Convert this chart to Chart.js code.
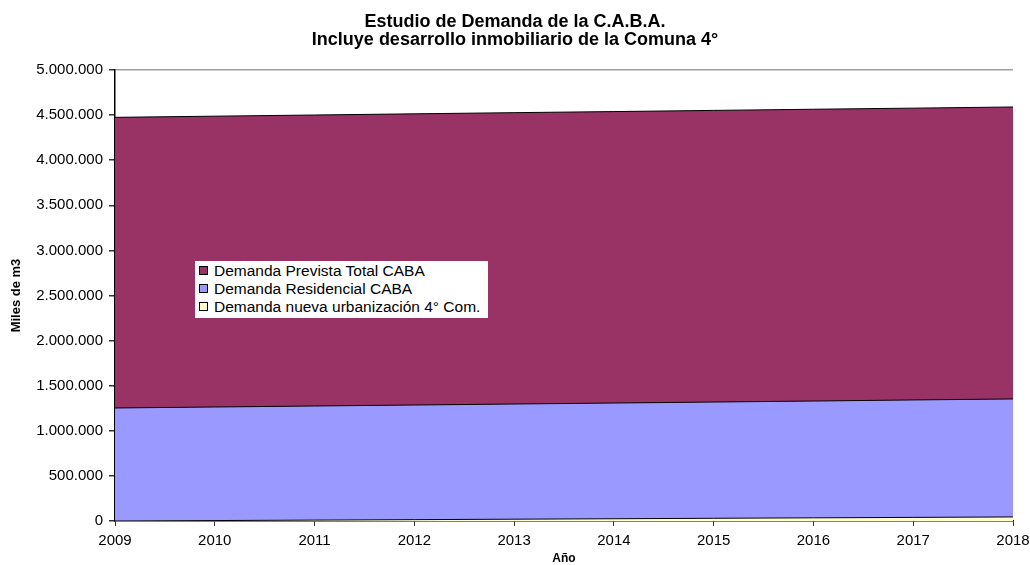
<!DOCTYPE html>
<html>
<head>
<meta charset="utf-8">
<script src="https://cdn.jsdelivr.net/npm/chart.js@4.4.0/dist/chart.umd.min.js"></script>
<style>
  body { margin: 0; background: #fff; }
  #wrap { position: relative; width: 1030px; height: 565px; }
  #legend {
    position: absolute; left: 195px; top: 261px; width: 293px; height: 57px;
    background: #fff; font-family: "Liberation Sans", Arial, sans-serif; font-size: 15.5px; color: #000;
    box-sizing: border-box; padding: 1px 0 0 4px;
  }
  #legend div { height: 18px; line-height: 18px; white-space: nowrap; }
  #legend span.box { display: inline-block; width: 7px; height: 7px; border: 1px solid #000; margin-right: 6px; vertical-align: 1px; }
</style>
</head>
<body>
<div id="wrap">
  <canvas id="chart" width="1030" height="565"></canvas>
  <div id="legend"></div>
</div>
<script>
// Years on the x axis
const years = ['2009', '2010', '2011', '2012', '2013', '2014', '2015', '2016', '2017', '2018'];

// Series values (miles de m3)
const demandaTotal = [4475000, 4488000, 4501000, 4514000, 4527000, 4539000, 4552000, 4565000, 4577000, 4590000];
const demandaResidencial = [1253000, 1264000, 1275000, 1286000, 1297000, 1308000, 1319000, 1330000, 1342000, 1353000];
const demandaComuna4 = [0, 5000, 10000, 15000, 20000, 25000, 30000, 35000, 40000, 45000];

const seriesNames = ['Demanda Prevista Total CABA', 'Demanda Residencial CABA', 'Demanda nueva urbanización 4° Com.'];
const seriesColors = ['#993366', '#9999FF', '#FFFFCC'];

const FONT = "'Liberation Sans', Arial, sans-serif";

function fmtMiles(v) {
    return Math.round(v).toString().replace(/\B(?=(\d{3})+(?!\d))/g, '.');
}

// lower order = drawn on top, so the small series stays visible
const datasets = [demandaTotal, demandaResidencial, demandaComuna4].map((data, i) => ({
    label: seriesNames[i],
    data: data,
    backgroundColor: seriesColors[i],
    borderColor: '#000',
    borderWidth: 1,
    fill: 'origin',
    pointRadius: 0,
    tension: 0,
    order: 3 - i
}));

new Chart(document.getElementById('chart'), {
    type: 'line',
    data: { labels: years, datasets: datasets },
    options: {
        responsive: false,
        animation: false,
        layout: { padding: { left: 0, right: 0, top: 0, bottom: 0 } },
        plugins: {
            legend: { display: false },
            tooltip: { enabled: false },
            filler: { drawTime: 'beforeDatasetDraw' },
            title: {
                display: true,
                text: ['Estudio de Demanda de la C.A.B.A.', 'Incluye desarrollo inmobiliario de la Comuna 4°'],
                color: '#000',
                font: { family: FONT, size: 18, weight: 'bold', lineHeight: 1.0 },
                padding: { top: 13, bottom: 21 }
            }
        },
        scales: {
            x: {
                offset: false,
                grid: { drawOnChartArea: false, tickLength: 5, tickColor: '#333' },
                border: { color: '#000', width: 1.5 },
                ticks: { color: '#000', font: { family: FONT, size: 15 }, padding: 6, maxRotation: 0, autoSkip: false },
                title: { display: true, text: 'Año', color: '#000', font: { family: FONT, size: 12, weight: 'bold', lineHeight: 1 }, padding: 0 },
                afterFit: (s) => { s.height = 44; s.paddingRight = 17; }
            },
            y: {
                min: 0,
                max: 5000000,
                ticks: { stepSize: 500000, color: '#000', font: { family: FONT, size: 15 }, padding: 6, callback: (v) => fmtMiles(v) },
                grid: {
                    tickLength: 6,
                    tickColor: '#333',
                    color: (ctx) => ctx.tick && ctx.tick.value === 5000000 ? '#a0a0a0' : 'rgba(0,0,0,0)',
                    lineWidth: 1.5
                },
                border: { color: '#000', width: 1.5 },
                title: { display: true, text: 'Miles de m3', color: '#000', font: { family: FONT, size: 13, weight: 'bold' }, padding: { top: 9, bottom: 0 } },
                afterFit: (s) => { s.width = 115; }
            }
        }
    }
});

// Legend box inside the plot
const legend = document.getElementById('legend');
seriesNames.forEach((name, i) => {
    const row = document.createElement('div');
    row.innerHTML = `<span class="box" style="background:${seriesColors[i]}"></span>${name}`;
    legend.appendChild(row);
});
</script>
</body>
</html>
